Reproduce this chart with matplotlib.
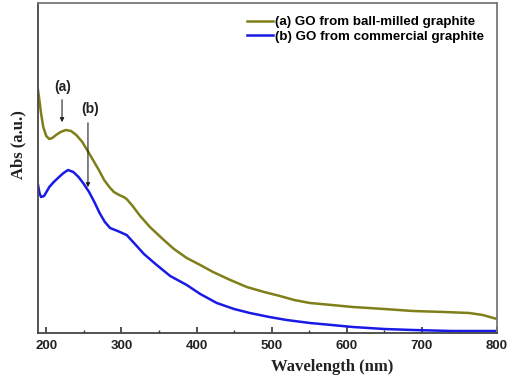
import matplotlib
matplotlib.use("Agg")
import matplotlib.pyplot as plt

# ---------- data ------------------------------------------------------
wl_a = [189, 191, 193, 196, 200, 204, 208, 213, 219, 226, 233, 240, 248, 256, 263,
        270, 277, 284, 290, 297, 303, 307, 315, 325, 338, 355, 370, 387, 405, 422,
        445, 467, 490, 511, 530, 551, 580, 608, 650, 688, 730, 763, 781, 800]
abs_a = [2.43, 2.32, 2.20, 2.06, 1.97, 1.94, 1.95, 1.98, 2.01, 2.03, 2.02, 1.98, 1.91,
         1.81, 1.72, 1.63, 1.53, 1.46, 1.41, 1.38, 1.36, 1.34, 1.27, 1.17, 1.06, 0.94,
         0.84, 0.75, 0.68, 0.61, 0.53, 0.46, 0.41, 0.37, 0.33, 0.30, 0.28, 0.26, 0.24,
         0.22, 0.21, 0.20, 0.18, 0.14]

wl_b = [189, 191, 193, 197, 201, 204, 210, 217, 223, 229, 236, 243, 250, 257, 264,
        271, 278, 285, 295, 307, 318, 330, 347, 365, 387, 405, 427, 450, 471, 497,
        520, 551, 580, 608, 650, 688, 740, 800]
abs_b = [1.48, 1.40, 1.36, 1.37, 1.42, 1.46, 1.51, 1.56, 1.60, 1.63, 1.61, 1.56, 1.49,
         1.41, 1.31, 1.20, 1.11, 1.05, 1.02, 0.98, 0.89, 0.79, 0.68, 0.57, 0.48, 0.39,
         0.30, 0.24, 0.20, 0.16, 0.13, 0.10, 0.08, 0.06, 0.04, 0.03, 0.02, 0.02]

labels = ["(a) GO from ball-milled graphite", "(b) GO from commercial graphite"]
xticks = [200, 300, 400, 500, 600, 700, 800]

col_a = "#7f7f1a"
col_b = "#1a1ae6"

fig = plt.figure(figsize=(5.08, 3.76), dpi=100)
ax = fig.add_axes([38 / 508, 43 / 376, 459 / 508, 330 / 376])

ax.plot(wl_a, abs_a, color=col_a, lw=1.8, label=labels[0])
ax.plot(wl_b, abs_b, color=col_b, lw=1.8, label=labels[1])

ax.set_xlim(189, 800)
ax.set_ylim(0, 3.30)
ax.set_xticks(xticks)
ax.set_xticks([250, 350, 450, 550, 650, 750], minor=True)
ax.set_yticks([])
ax.tick_params(axis="x", which="major", direction="in", length=4, width=1.2,
               color="#333333", pad=5)
ax.tick_params(axis="x", which="minor", direction="in", length=2, width=1.0,
               color="#333333")
for lab in ax.get_xticklabels():
    lab.set_fontfamily("Liberation Sans")
    lab.set_fontweight("bold")
    lab.set_fontsize(9.5)
    lab.set_color("#222222")

for sp in ax.spines.values():
    sp.set_color("#777777")
    sp.set_linewidth(1.3)
ax.spines["bottom"].set_color("#444444")
ax.spines["left"].set_color("#444444")

ax.set_xlabel("Wavelength (nm)", fontfamily="Liberation Serif", fontweight="bold",
              fontsize=12, color="#222222")
ax.xaxis.set_label_coords(0.64, -0.078)
ax.set_ylabel("Abs (a.u.)", fontfamily="Liberation Serif", fontweight="bold",
              fontsize=12, color="#222222")
ax.yaxis.set_label_coords(-0.025, 0.57)

# arrows marking the peaks
ax.annotate("", xy=(221, 2.08), xytext=(221, 2.36),
            arrowprops=dict(arrowstyle="-|>", color="#222222", lw=0.8,
                            mutation_scale=6))
ax.text(222, 2.46, "(a)", ha="center", va="center", fontfamily="Liberation Sans",
        fontweight="bold", fontsize=10, color="#222222")
ax.annotate("", xy=(255.5, 1.43), xytext=(255.5, 2.13),
            arrowprops=dict(arrowstyle="-|>", color="#222222", lw=0.8,
                            mutation_scale=6))
ax.text(258, 2.24, "(b)", ha="center", va="center", fontfamily="Liberation Sans",
        fontweight="bold", fontsize=10, color="#222222")

leg = ax.legend(loc="upper right", bbox_to_anchor=(0.99, 0.985), frameon=False,
                prop=dict(family="Liberation Sans", weight="bold", size=9.6),
                handlelength=2.0, handletextpad=0.15, labelspacing=0.15,
                borderaxespad=0.2)

fig.savefig("out.png", dpi=100)
